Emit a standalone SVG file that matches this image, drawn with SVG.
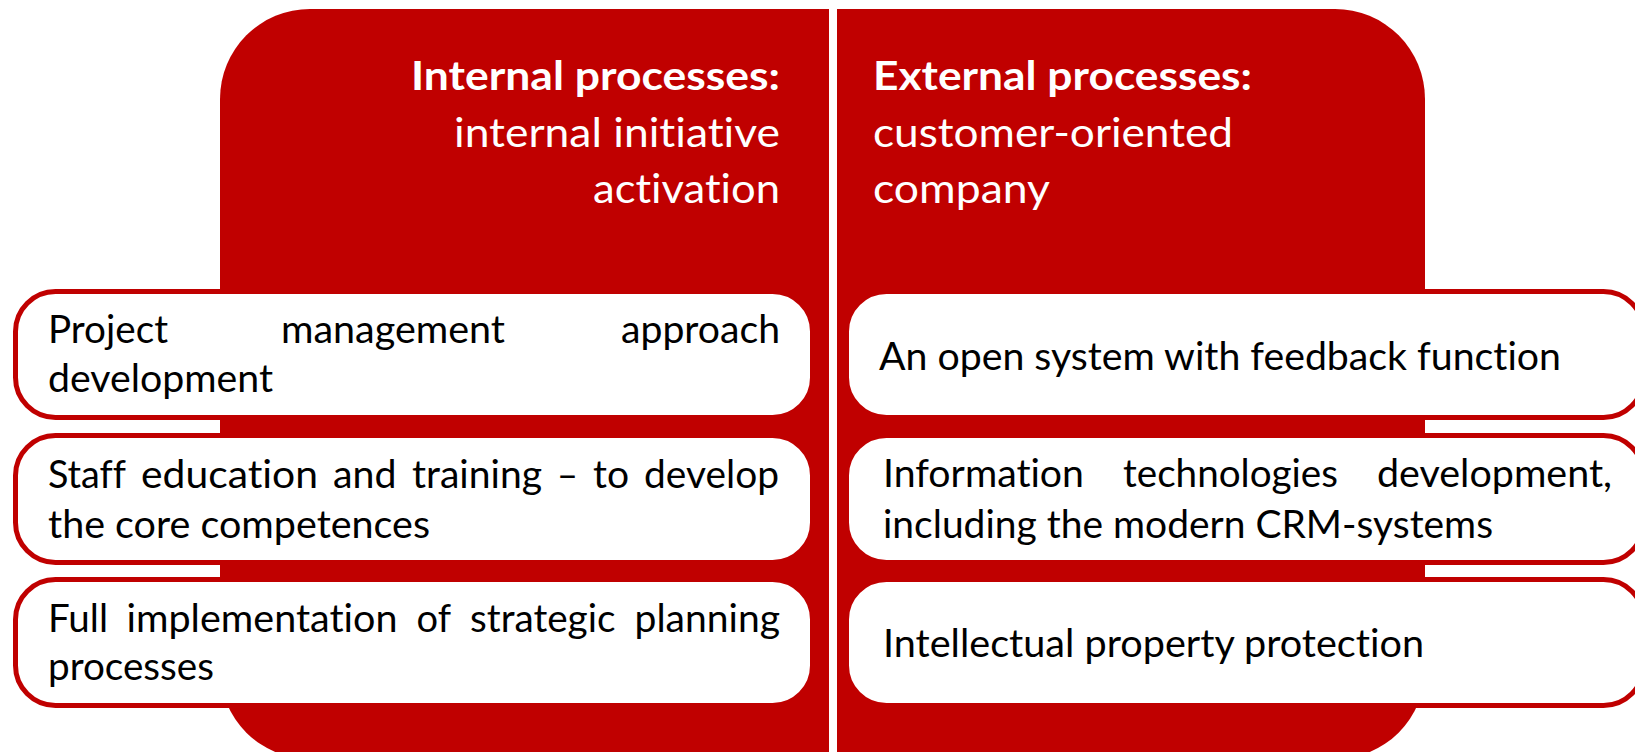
<svg xmlns="http://www.w3.org/2000/svg" width="1635" height="752" viewBox="0 0 1635 752">
<style>
.panel{fill:#C00000}
.box{fill:#FFFFFF;stroke:#C00000;stroke-width:5}
text{font-variant-ligatures:none;font-feature-settings:"liga" 0,"clig" 0}
.hdr{font-family:Lato,"Liberation Sans",sans-serif;font-size:40px;fill:#FFFFFF}
.hb{font-weight:bold}
.body{font-family:Lato,"Liberation Sans",sans-serif;font-size:38px;fill:#000000}
</style>
<rect width="1635" height="752" fill="#FFFFFF"/>
<g id="panel-internal">
<path class="panel" d="M829,9 L310,9 A90,90 0 0 0 220,99 L220,669 A90,90 0 0 0 310,759 L829,759 Z"/>
<text class="hdr hb" x="780" y="90" text-anchor="end" textLength="369" lengthAdjust="spacingAndGlyphs">Internal processes:</text>
<text class="hdr" x="780" y="147" text-anchor="end" textLength="326" lengthAdjust="spacingAndGlyphs">internal initiative</text>
<text class="hdr" x="780" y="203" text-anchor="end" textLength="187" lengthAdjust="spacingAndGlyphs">activation</text>
</g>
<g id="panel-external">
<path class="panel" d="M837,9 L1335,9 A90,90 0 0 1 1425,99 L1425,669 A90,90 0 0 1 1335,759 L837,759 Z"/>
<text class="hdr hb" x="873" y="90" textLength="379" lengthAdjust="spacingAndGlyphs">External processes:</text>
<text class="hdr" x="873" y="147" textLength="360" lengthAdjust="spacingAndGlyphs">customer-oriented</text>
<text class="hdr" x="873" y="203" textLength="177" lengthAdjust="spacingAndGlyphs">company</text>
</g>
<g id="box-l1">
<rect class="box" x="15.5" y="291.5" width="797" height="126" rx="40"/>
<text class="body" x="48" y="343" textLength="120" lengthAdjust="spacingAndGlyphs">Project</text>
<text class="body" x="281" y="343" textLength="224" lengthAdjust="spacingAndGlyphs">management</text>
<text class="body" x="621" y="343" textLength="159" lengthAdjust="spacingAndGlyphs">approach</text>
<text class="body" x="48" y="392" textLength="225" lengthAdjust="spacingAndGlyphs">development</text>
</g>
<g id="box-l2">
<rect class="box" x="15.5" y="435.5" width="797" height="127" rx="40"/>
<text class="body" x="48" y="488" textLength="78" lengthAdjust="spacingAndGlyphs">Staff</text>
<text class="body" x="141" y="488" textLength="177" lengthAdjust="spacingAndGlyphs">education</text>
<text class="body" x="333" y="488" textLength="63.5" lengthAdjust="spacingAndGlyphs">and</text>
<text class="body" x="412" y="488" textLength="130" lengthAdjust="spacingAndGlyphs">training</text>
<text class="body" x="557" y="488" textLength="21" lengthAdjust="spacingAndGlyphs">–</text>
<text class="body" x="593" y="488" textLength="36" lengthAdjust="spacingAndGlyphs">to</text>
<text class="body" x="644" y="488" textLength="135" lengthAdjust="spacingAndGlyphs">develop</text>
<text class="body" x="48" y="538" textLength="382" lengthAdjust="spacingAndGlyphs">the core competences</text>
</g>
<g id="box-l3">
<rect class="box" x="15.5" y="579.5" width="797" height="126" rx="40"/>
<text class="body" x="48" y="632" textLength="60" lengthAdjust="spacingAndGlyphs">Full</text>
<text class="body" x="126.5" y="632" textLength="271" lengthAdjust="spacingAndGlyphs">implementation</text>
<text class="body" x="416.5" y="632" textLength="34.5" lengthAdjust="spacingAndGlyphs">of</text>
<text class="body" x="470" y="632" textLength="145.5" lengthAdjust="spacingAndGlyphs">strategic</text>
<text class="body" x="634.5" y="632" textLength="145.5" lengthAdjust="spacingAndGlyphs">planning</text>
<text class="body" x="48" y="680" textLength="166" lengthAdjust="spacingAndGlyphs">processes</text>
</g>
<g id="box-r1">
<rect class="box" x="846.5" y="291.5" width="797" height="126" rx="40"/>
<text class="body" x="879" y="370" textLength="682" lengthAdjust="spacingAndGlyphs">An open system with feedback function</text>
</g>
<g id="box-r2">
<rect class="box" x="846.5" y="435.5" width="797" height="127" rx="40"/>
<text class="body" x="883" y="487" textLength="201" lengthAdjust="spacingAndGlyphs">Information</text>
<text class="body" x="1123" y="487" textLength="215" lengthAdjust="spacingAndGlyphs">technologies</text>
<text class="body" x="1377" y="487" textLength="235" lengthAdjust="spacingAndGlyphs">development,</text>
<text class="body" x="883" y="538" textLength="610" lengthAdjust="spacingAndGlyphs">including the modern CRM-systems</text>
</g>
<g id="box-r3">
<rect class="box" x="846.5" y="579.5" width="797" height="126" rx="40"/>
<text class="body" x="883" y="657" textLength="541" lengthAdjust="spacingAndGlyphs">Intellectual property protection</text>
</g>
</svg>
